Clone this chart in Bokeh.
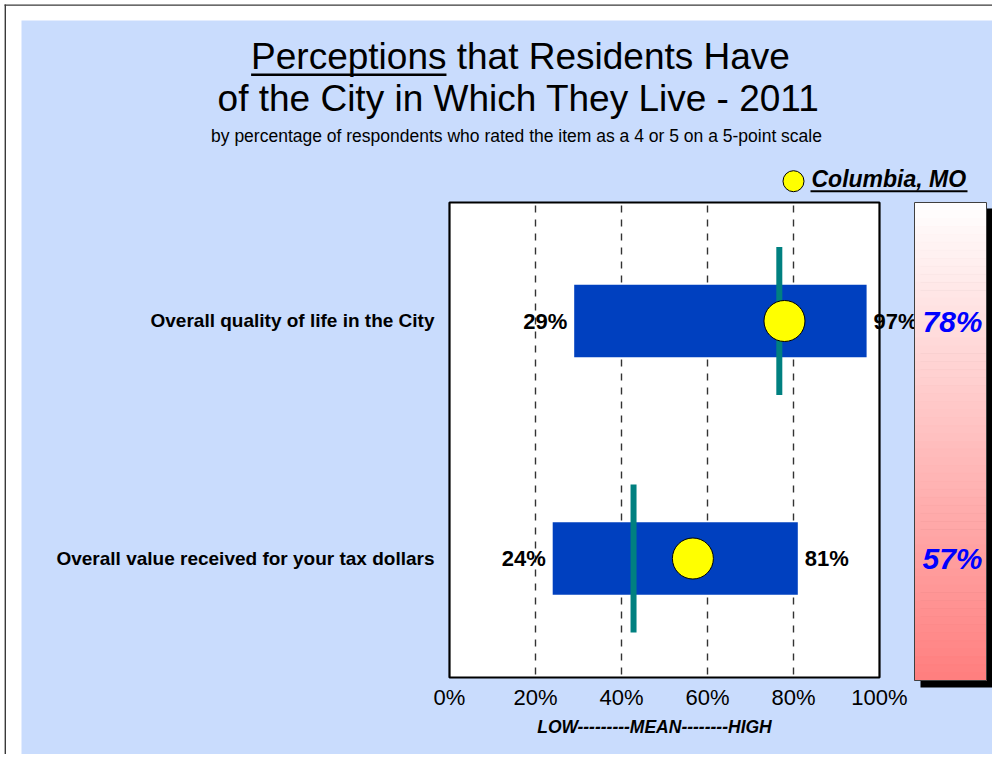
from bokeh.plotting import figure
from bokeh.models import Range1d
from bokeh.core.properties import value
from bokeh.embed import file_html
from bokeh.resources import INLINE

# ---------------- data ----------------
categories = ["Overall quality of life in the City",
              "Overall value received for your tax dollars"]
low = [29, 24]            # lowest city result
high = [97, 81]           # highest city result
mean = [76.7, 42.8]       # mean of cities (teal line)
city = [77.9, 56.6]       # Columbia, MO (yellow dot)
ticks = [0, 20, 40, 60, 80, 100]
tick_labels = ["0%", "20%", "40%", "60%", "80%", "100%"]
legend_label = "Columbia, MO"
title_1 = "Perceptions that Residents Have"
title_2 = "of the City in Which They Live - 2011"
subtitle = "by percentage of respondents who rated the item as a 4 or 5 on a 5-point scale"
axis_note = "LOW---------MEAN--------HIGH"

rows = list(range(len(categories)))

# ---------------- layout helpers (canvas pixels -> data) ----------------
W, H = 992, 754
X0, XS = 449.0, 4.3     # canvas x of 0 %, pixels per %
Y0, YS = 320.5, 237.5   # canvas y of first row, pixels per row
FONT = "Liberation Sans"
BASE_FIX = 0.365        # measured shift of rendered alphabetic baseline (em)


def X(px):
    return (px - X0) / XS


def Y(py):
    return (py - Y0) / YS


p = figure(width=W, height=H,
           x_range=Range1d(X(0), X(W)),
           y_range=Range1d(Y(H), Y(0)),
           output_backend="svg", toolbar_location=None, tools="",
           min_border=0, x_axis_location=None, y_axis_location=None,
           outline_line_color=None, background_fill_color="white",
           border_fill_color="white")
p.grid.visible = False


def txt(x, y, s, size, style="normal", color="black", align="left",
        x_off=0, y_off=0):
    p.text(x=x, y=y, text=s, text_font=value(FONT),
           text_font_size=value(f"{size}px"), text_font_style=style,
           text_color=color, text_align=align, text_baseline="alphabetic",
           x_offset=x_off, y_offset=y_off - BASE_FIX * size)


# outer frame line (top and left)
p.segment(x0=[X(4), X(4.8)], y0=[Y(4.6), Y(4)],
          x1=[X(W), X(4.8)], y1=[Y(4.6), Y(H)],
          line_color="#3A3A3A", line_width=1.4)

# light blue panel
p.quad(left=[X(21)], right=[X(1005)], top=[Y(20)], bottom=[Y(758)],
       fill_color="#C9DCFD", line_color=None)

# white plot box
p.quad(left=[ticks[0]], right=[ticks[-1]], top=[Y(202)], bottom=[Y(677)],
       fill_color="white", line_color="black", line_width=2.2)

# dashed gridlines
inner = ticks[1:-1]
p.segment(x0=inner, x1=inner, y0=[Y(205)] * len(inner), y1=[Y(675)] * len(inner),
          line_color="#333333", line_width=1.4, line_dash="7 7")

# range bars
p.hbar(y=rows, left=low, right=high, height=72.5 / YS,
       fill_color="#0040BF", line_color=None)

# mean lines
p.segment(x0=mean, x1=mean, y0=[r - 74 / YS for r in rows],
          y1=[r + 74 / YS for r in rows],
          line_color="#008080", line_width=6, line_cap="butt")

# Columbia dots
p.scatter(x=city, y=rows, size=41, fill_color="#FFFF00",
          line_color="black", line_width=1)

# low / high labels
txt(low, rows, [f"{v}%" for v in low], 22, "bold", align="right",
    x_off=-7, y_off=8.5)
txt(high, rows, [f"{v}%" for v in high], 22, "bold", align="left",
    x_off=7, y_off=8.5)

# category labels
txt([X(434)] * len(rows), rows, categories, 19, "bold",
    align="right", y_off=6.5)

# x tick labels
txt(ticks, [Y(705)] * len(ticks), tick_labels, 22, align="center")
txt([X(654)], [Y(732.5)], [axis_note], 17.5, "bold italic", align="center")

# right-hand gradient panel with shadow
p.quad(left=[X(920)], right=[X(992)], top=[Y(208)], bottom=[Y(687)],
       fill_color="black", line_color=None)
n = 60
top_px, bot_px = 202.0, 680.0
step = (bot_px - top_px) / n
tops, bots, cols = [], [], []
for i in range(n):
    t = (i + 0.5) / n
    g = int(round(255 - t * (255 - 126)))
    tops.append(Y(top_px + i * step))
    bots.append(Y(top_px + (i + 1) * step))
    cols.append("#%02X%02X%02X" % (255, g, g))
p.quad(left=[X(914)] * n, right=[X(986)] * n, top=tops, bottom=bots,
       fill_color=cols, line_color=cols, line_width=1)
p.quad(left=[X(914)], right=[X(986)], top=[Y(202)], bottom=[Y(680)],
       fill_color=None, line_color="#404040", line_width=1)
txt([X(952)] * len(rows), rows, [f"{round(v)}%" for v in city], 30,
    "bold italic", color="#0000FF", align="center", y_off=11)

# legend
p.scatter(x=[X(793)], y=[Y(180.7)], size=21, fill_color="#FFFF00",
          line_color="black", line_width=1)
txt([X(811)], [Y(186.7)], [legend_label], 23, "bold italic")
p.segment(x0=[X(810)], x1=[X(967)], y0=[Y(190.8)], y1=[Y(190.8)],
          line_color="black", line_width=2)

# titles
txt([X(520)], [Y(69.5)], [title_1], 37, align="center")
# underline under the first word (Liberation Sans metrics)
em_full, em_word = 14.562, 5.28
left_px = 520 - em_full * 37 / 2
p.segment(x0=[X(left_px)], x1=[X(left_px + em_word * 37)],
          y0=[Y(74.3)], y1=[Y(74.3)], line_color="black", line_width=2.5)
txt([X(518)], [Y(111.5)], [title_2], 37, align="center")
txt([X(516)], [Y(141.5)], [subtitle], 17.5, align="center")

open("out.html", "w").write(file_html(p, INLINE))
